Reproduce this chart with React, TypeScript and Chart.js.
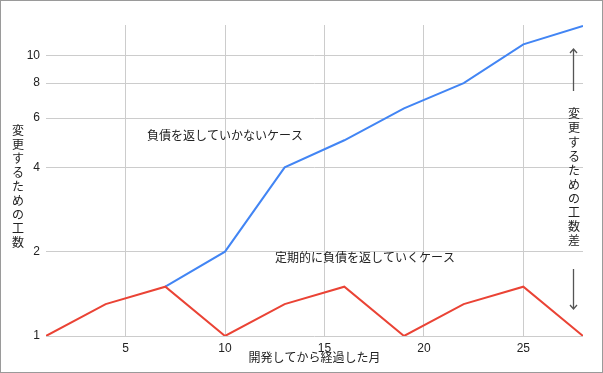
import React, { useEffect, useRef } from "react";
import { Chart, registerables } from "chart.js";

Chart.register(...registerables);

const months = [1, 4, 7, 10, 13, 16, 19, 22, 25, 28];
const noRepayValues = [null, null, 1.5, 2, 4, 5, 6.5, 8, 11, 12.8];
const repayValues = [1, 1.3, 1.5, 1, 1.3, 1.5, 1, 1.3, 1.5, 1];
const xTicks = [5, 10, 15, 20, 25];
const yTicks = [1, 2, 4, 6, 8, 10];

const xTitle = "開発してから経過した月";
const yTitle = "変更するための工数";
const rightLabel = "変更するための工数差";
const noRepayLabel = "負債を返していかないケース";
const repayLabel = "定期的に負債を返していくケース";

const FONT = "'Liberation Sans', Arial, 'Noto Sans CJK JP', sans-serif";
const TEXT = "#222222";

const decorPlugin = {
  id: "decor",
  afterDraw(chart: any) {
    const ctx = chart.ctx as CanvasRenderingContext2D;
    const area = chart.chartArea;
    ctx.save();
    ctx.fillStyle = TEXT;
    ctx.font = `12px ${FONT}`;
    // x title
    ctx.textAlign = "center";
    ctx.textBaseline = "middle";
    ctx.fillText(xTitle, (area.left + area.right) / 2, 359);
    // y title stacked
    const yChars = Array.from(yTitle);
    yChars.forEach((c, i) => ctx.fillText(c, 18, 132 + i * 13.9));
    // right label stacked
    const rChars = Array.from(rightLabel);
    rChars.forEach((c, i) => ctx.fillText(c, 574, 115 + i * 14.1));
    // annotations
    ctx.textAlign = "left";
    ctx.fillText(noRepayLabel, 147, 137);
    ctx.fillText(repayLabel, 275, 259);
    // arrows
    ctx.strokeStyle = "#555555";
    ctx.lineWidth = 1.3;
    const ax = 573.5;
    ctx.beginPath();
    ctx.moveTo(ax, 49);
    ctx.lineTo(ax, 91);
    ctx.moveTo(ax - 3.5, 53);
    ctx.lineTo(ax, 49);
    ctx.lineTo(ax + 3.5, 53);
    ctx.moveTo(ax, 269);
    ctx.lineTo(ax, 309);
    ctx.moveTo(ax - 3.5, 305);
    ctx.lineTo(ax, 309);
    ctx.lineTo(ax + 3.5, 305);
    ctx.stroke();
    // outer border
    ctx.strokeStyle = "#9a9a9a";
    ctx.lineWidth = 1;
    ctx.strokeRect(0.5, 0.5, chart.width - 1, chart.height - 1);
    ctx.restore();
  },
};

export default function App() {
  const ref = useRef<HTMLCanvasElement | null>(null);
  useEffect(() => {
    if (!ref.current) return;
    const chart = new Chart(ref.current, {
      type: "line",
      data: {
        datasets: [
          {
            label: repayLabel,
            data: months.map((m, i) => ({ x: m, y: repayValues[i] })),
            borderColor: "#EA4335",
            borderWidth: 2,
            pointRadius: 0,
            tension: 0,
          },
          {
            label: noRepayLabel,
            data: months.map((m, i) => ({ x: m, y: noRepayValues[i] as any })),
            borderColor: "#4285F4",
            borderWidth: 2,
            pointRadius: 0,
            tension: 0,
            spanGaps: false,
          },
        ],
      },
      plugins: [decorPlugin],
      options: {
        responsive: false,
        animation: false,
        devicePixelRatio: 1,
        layout: { padding: { top: 25, right: 20, left: 0, bottom: 0 } },
        plugins: { legend: { display: false }, tooltip: { enabled: false } },
        scales: {
          x: {
            type: "linear",
            min: 1,
            max: 28,
            afterBuildTicks: (s: any) => {
              s.ticks = xTicks.map((v) => ({ value: v }));
            },
            afterFit: (s: any) => {
              s.height = 37;
            },
            grid: { color: "#cccccc", drawTicks: false },
            border: { display: false },
            ticks: {
              padding: 5,
              color: TEXT,
              font: { family: FONT, size: 12 },
              callback: (v: any) => String(v),
            },
          },
          y: {
            type: "logarithmic",
            min: 1,
            max: 12.9,
            afterBuildTicks: (s: any) => {
              s.ticks = yTicks.map((v) => ({ value: v }));
            },
            afterFit: (s: any) => {
              s.width = 46;
            },
            grid: { color: "#cccccc", drawTicks: false },
            border: { display: false },
            ticks: {
              padding: 6,
              color: TEXT,
              font: { family: FONT, size: 12 },
              callback: (v: any) => String(v),
            },
          },
        },
      },
    });
    return () => chart.destroy();
  }, []);
  return (
    <div style={{ position: "absolute", left: 0, top: 0, width: 603, height: 373, background: "#fff" }}>
      <canvas ref={ref} width={603} height={373} style={{ display: "block" }} />
    </div>
  );
}
